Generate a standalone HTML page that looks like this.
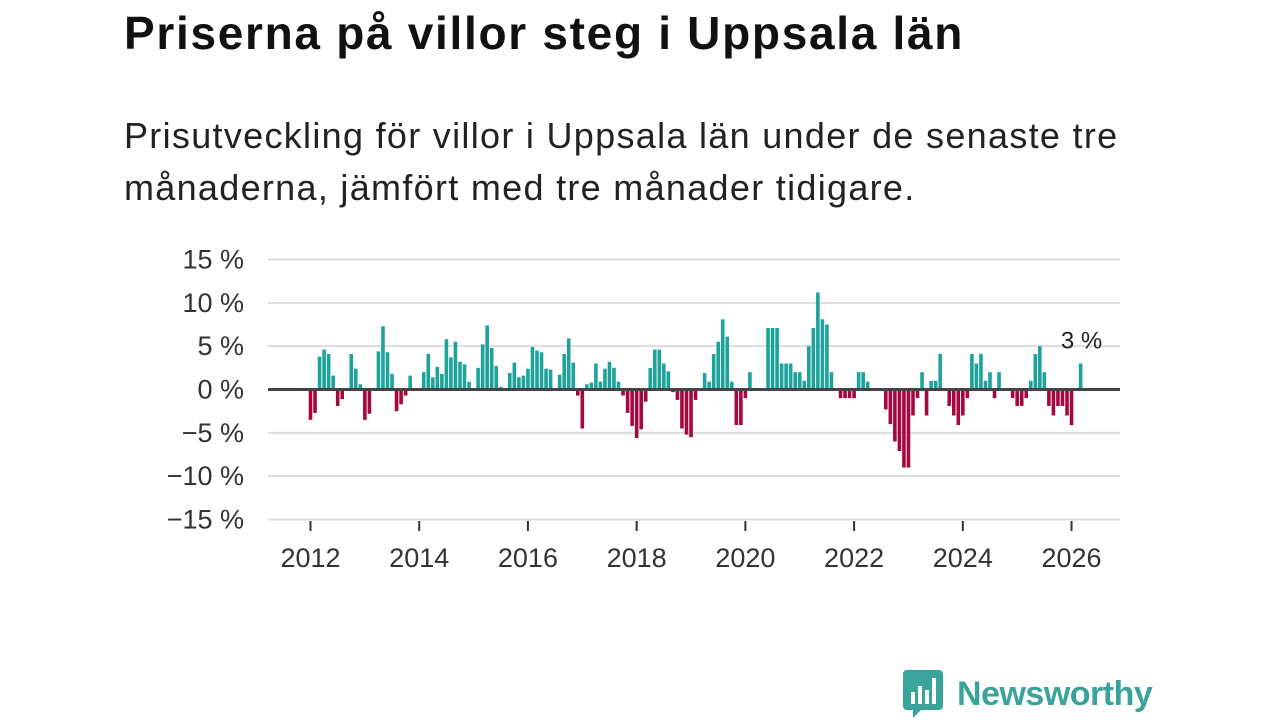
<!DOCTYPE html>
<html><head><meta charset="utf-8">
<style>
body{margin:0;width:1280px;height:720px;background:#fff;overflow:hidden;font-family:"Liberation Sans",sans-serif;}
#title{position:absolute;left:124px;top:6px;font-size:46px;font-weight:bold;color:#111;margin:0;letter-spacing:1.7px;white-space:nowrap}
#subtitle{position:absolute;left:124px;top:110px;font-size:36px;line-height:52px;color:#222;margin:0;width:1070px;letter-spacing:1.3px}
svg{position:absolute;left:0;top:0}
#logo{position:absolute;left:903px;top:670px;display:flex;align-items:center}
#logo span{font-size:34px;font-weight:bold;color:#3aa39a;margin-left:14px;letter-spacing:-0.5px}
</style></head><body>
<h1 id="title">Priserna på villor steg i Uppsala län</h1>
<p id="subtitle">Prisutveckling för villor i Uppsala län under de senaste tre månaderna, jämfört med tre månader tidigare.</p>
<svg id="chart" width="1280" height="720"></svg>
<div id="logo">
<svg width="40" height="48" viewBox="0 0 40 48" style="position:static"><path d="M4 0H36A4 4 0 0 1 40 4V36A4 4 0 0 1 36 40H18L10 48V40H4A4 4 0 0 1 0 36V4A4 4 0 0 1 4 0Z" fill="#3aa39a"/><rect x="8" y="22" width="4" height="12" fill="#fff"/><rect x="15" y="16" width="4" height="18" fill="#fff"/><rect x="22" y="20" width="4" height="14" fill="#fff"/><rect x="29" y="8" width="4" height="26" fill="#fff"/></svg>
<span>Newsworthy</span></div>
<script>
const values = [-3.5,-2.7,3.8,4.6,4.1,1.6,-1.9,-1.1,0,4.1,2.4,0.6,
-3.5,-2.8,0,4.4,7.3,4.3,1.8,-2.5,-1.7,-0.7,1.6,0,
0,2.0,4.1,1.4,2.6,1.8,5.8,3.7,5.5,3.2,2.9,0.9,
0,2.5,5.2,7.4,4.8,2.7,0.3,0,1.9,3.1,1.4,1.6,
2.4,4.9,4.5,4.3,2.4,2.3,0,1.7,4.1,5.9,3.1,-0.7,
-4.5,0.6,0.8,3.0,0.9,2.4,3.2,2.5,0.9,-0.7,-2.7,-4.2,
-5.6,-4.6,-1.4,2.5,4.6,4.6,3.0,2.1,-0.3,-1.2,-4.5,-5.2,
-5.5,-1.2,0,1.9,0.9,4.1,5.5,8.1,6.1,0.9,-4.1,-4.1,
-1.0,2.0,0,0,0,7.1,7.1,7.1,3.0,3.0,3.0,2.0,
2.0,1.0,5.0,7.1,11.2,8.1,7.5,2.0,0,-1.0,-1.0,-1.0,
-1.0,2.0,2.0,0.9,0,0,0,-2.3,-4.0,-6.0,-7.1,-9.0,
-9.0,-3.0,-1.0,2.0,-3.0,1.0,1.0,4.1,0,-1.9,-3.0,-4.1,
-3.0,-1.0,4.1,3.0,4.1,1.0,2.0,-1.0,2.0,0,0,-1.0,
-1.9,-1.9,-1.0,1.0,4.1,5.0,2.0,-1.9,-3.0,-1.9,-1.9,-3.0,
-4.1,0,3.0];
const yTicks = [15,10,5,0,-5,-10,-15];
const yTickLabels = ["15 %","10 %","5 %","0 %","−5 %","−10 %","−15 %"];
const xTickYears = [2012,2014,2016,2018,2020,2022,2024,2026];
const startYear = 2012;
const lastLabel = "3 %";

const NS="http://www.w3.org/2000/svg";
const svg=document.getElementById('chart');
function x(i){return 310.5+4.53*i;}
function y(v){return 389.5-8.667*v;}
function mk(t,a){const e=document.createElementNS(NS,t);for(const k in a)e.setAttribute(k,a[k]);svg.appendChild(e);return e;}
yTicks.forEach((t,k)=>{
  if(t!==0){const g=mk('line',{x1:268,x2:1120,y1:y(t),y2:y(t),stroke:'#ddd','stroke-width':2});
  
  }
  const l=mk('text',{x:244,y:y(t)+9,'text-anchor':'end','font-size':27,fill:'#333','font-family':'Liberation Sans, sans-serif'});
  l.textContent=yTickLabels[k];
  
  
});
xTickYears.forEach(yr=>{
  const i=(yr-startYear)*12;
  const t=mk('line',{x1:x(i),x2:x(i),y1:521,y2:531,stroke:'#333','stroke-width':2});
  
  
  const l=mk('text',{x:x(i),y:567,'text-anchor':'middle','font-size':27,fill:'#333','font-family':'Liberation Sans, sans-serif'});
  l.textContent=yr;
  
  
});
values.forEach((v,i)=>{
  if(v===0)return;
  const top=Math.min(y(v),y(0)), h=Math.abs(y(v)-y(0));
  const b=mk('rect',{x:x(i)-1.8,y:top,width:3.6,height:h,fill:v>0?'#1ea39a':'#a50840'});
  
  
});
const z=mk('line',{x1:268,x2:1120,y1:y(0),y2:y(0),stroke:'#444','stroke-width':3});


const n=values.length-1;
const lab=mk('text',{x:x(n)+1,y:y(values[n])-15,'text-anchor':'middle','font-size':24,fill:'#222','font-family':'Liberation Sans, sans-serif'});
lab.textContent=lastLabel;


</script>
</body></html>
